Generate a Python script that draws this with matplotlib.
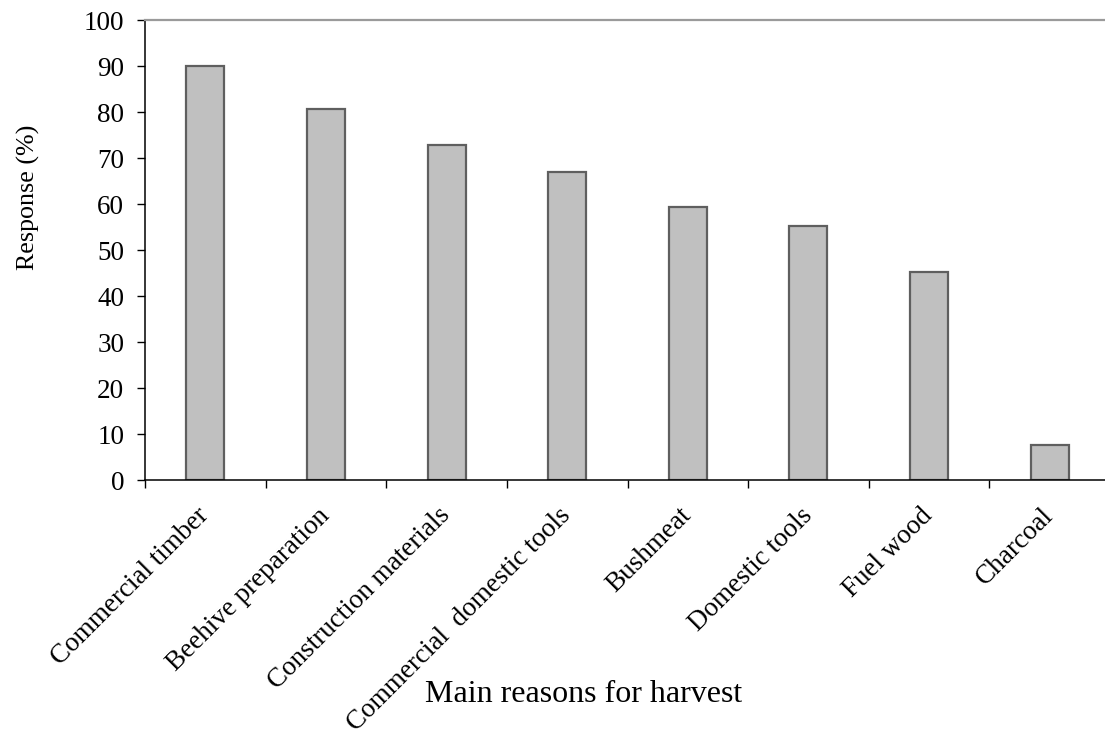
"""Bar chart of main reasons for harvest (response %)."""
import matplotlib.pyplot as plt
import numpy as np

plt.rcParams["font.family"] = ["Liberation Serif", "DejaVu Serif"]

categories = [
    "Commercial timber",
    "Beehive preparation",
    "Construction materials",
    "Commercial  domestic tools",
    "Bushmeat",
    "Domestic tools",
    "Fuel wood",
    "Charcoal",
]
responses = [90.0, 80.6, 72.8, 67.0, 59.4, 55.2, 45.3, 7.6]
y_ticks = list(range(0, 101, 10))

fig = plt.figure(figsize=(11.05, 7.38), dpi=100)
# plot area runs slightly past the right edge, like the original
ax = fig.add_axes([145 / 1105, 1 - 480 / 738, 965 / 1105, 460 / 738])

x = np.arange(len(categories)) + 0.5
ax.bar(x, responses, width=0.315, color="#c0c0c0", edgecolor="#5f5f5f",
       linewidth=1.6, zorder=2)

ax.set_xlim(0, len(categories))
ax.set_ylim(0, 100)

# category boundaries get the tick marks, centres get the labels
ax.set_xticks(np.arange(len(categories) + 1))
ax.set_xticklabels([])
ax.set_xticks(x, minor=True)
ax.set_xticklabels(categories, minor=True, rotation=45, ha="right",
                   va="center", rotation_mode="anchor", fontsize=19.5)
ax.tick_params(axis="x", which="major", direction="out", length=6,
               width=1, color="black")
ax.tick_params(axis="x", which="minor", length=0, pad=23)

ax.set_yticks(y_ticks)
ax.tick_params(axis="y", direction="out", length=6, width=1,
               labelsize=19.5, pad=9)

ax.spines["right"].set_visible(False)
ax.spines["top"].set_color("#9a9a9a")
ax.spines["top"].set_linewidth(1.6)
ax.spines["left"].set_linewidth(1.1)
ax.spines["bottom"].set_linewidth(1.1)

fig.text(28 / 1105, 1 - 197 / 738, "Response (%)", rotation=90,
         ha="center", va="center", fontsize=18.7)
fig.text(584 / 1105, 1 - 695 / 738, "Main reasons for harvest",
         ha="center", va="center", fontsize=23)

fig.savefig("out.png", dpi=100)
